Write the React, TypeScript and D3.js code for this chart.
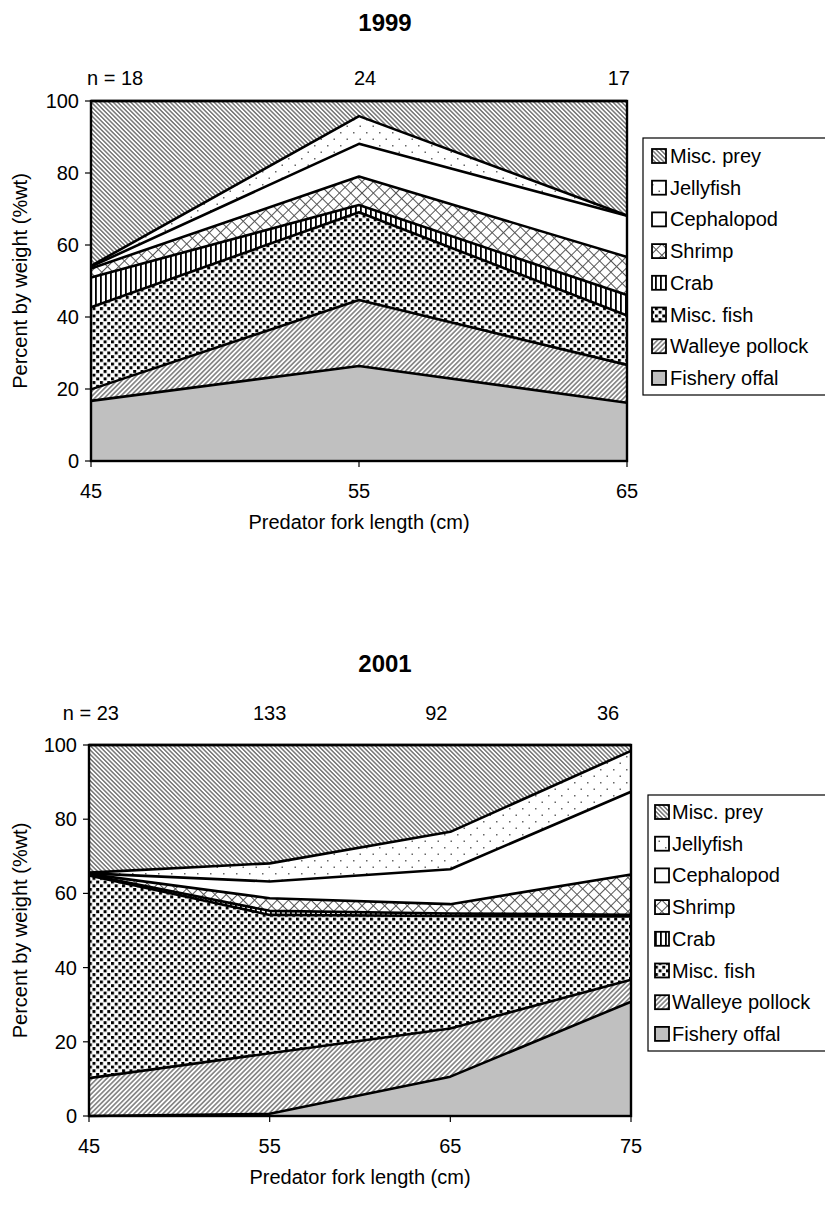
import * as d3 from 'd3';

// series, bottom to top of the stack
const SERIES = ['Fishery offal', 'Walleye pollock', 'Misc. fish', 'Crab', 'Shrimp', 'Cephalopod', 'Jellyfish', 'Misc. prey'];
const FILLS = ['url(#p-offal)', 'url(#p-pollock)', 'url(#p-fish)', 'url(#p-crab)', 'url(#p-shrimp)', 'url(#p-ceph)', 'url(#p-jelly)', 'url(#p-prey)'];

// 1999 (%wt per predator length class)
const len1999 = [45, 55, 65];
const n1999 = ['n = 18', '24', '17'];
const offal1999 = [16.7, 26.4, 16.2];
const pollock1999 = [3.2, 18.3, 10.5];
const fish1999 = [22.8, 24.4, 13.7];
const crab1999 = [8.3, 2.0, 5.7];
const shrimp1999 = [2.5, 7.9, 10.6];
const ceph1999 = [0.5, 9.1, 11.4];
const jelly1999 = [0.2, 7.7, 0.1];
const prey1999 = [45.8, 4.2, 31.8];

// 2001
const len2001 = [45, 55, 65, 75];
const n2001 = ['n = 23', '133', '92', '36'];
const offal2001 = [0, 0.6, 10.6, 30.8];
const pollock2001 = [10.2, 16.3, 13.0, 5.9];
const fish2001 = [54.6, 37.3, 30.3, 17.1];
const crab2001 = [0.2, 1.1, 0.7, 0.4];
const shrimp2001 = [0.2, 3.4, 2.5, 10.9];
const ceph2001 = [0.2, 4.5, 9.4, 22.3];
const jelly2001 = [0.2, 4.9, 10.1, 11.0];
const prey2001 = [34.4, 31.9, 23.4, 1.6];

const yTicks = [0, 20, 40, 60, 80, 100];
const FONT = 'Liberation Sans, Arial, sans-serif';

type Layout = {
  left: number; right: number; top: number; bottom: number;
  titleY: number; nY: number;
  nPos: { anchor: string; dx: number }[];
  legend: { x: number; y: number; h: number; swX: number; txtX: number; y0: number; step: number };
};

function Panel({ title, lengths, nLabels, series, L }: { title: string; lengths: number[]; nLabels: string[]; series: number[][]; L: Layout }) {
  const rows = lengths.map((len, i) => {
    const r: Record<string, number> = { len };
    SERIES.forEach((s, k) => (r[s] = series[k][i]));
    return r;
  });
  const stacked = d3.stack<Record<string, number>>().keys(SERIES)(rows);
  const x = d3.scaleLinear().domain(d3.extent(lengths) as [number, number]).range([L.left, L.right]);
  const y = d3.scaleLinear().domain([0, 100]).range([L.bottom, L.top]);
  const area = d3.area<d3.SeriesPoint<Record<string, number>>>()
    .x((d) => x(d.data.len)).y0((d) => y(d[0])).y1((d) => y(d[1]));
  const topLine = d3.line<d3.SeriesPoint<Record<string, number>>>()
    .x((d) => x(d.data.len)).y((d) => y(d[1]));
  const midX = (L.left + L.right) / 2;
  const lg = L.legend;

  return (
    <g fontFamily={FONT} fontSize={20} fill="#000">
      <text x={385} y={L.titleY} textAnchor="middle" fontWeight="bold" fontSize={24}>{title}</text>
      {nLabels.map((t, i) => (
        <text key={t} x={x(lengths[i]) + L.nPos[i].dx} y={L.nY} textAnchor={L.nPos[i].anchor}>{t}</text>
      ))}
      {stacked.map((s, k) => (
        <path key={s.key} d={area(s) ?? ''} fill={FILLS[k]} stroke="none" />
      ))}
      {stacked.map((s) => (
        <path key={s.key + '-l'} d={topLine(s) ?? ''} fill="none" stroke="#000" strokeWidth={2.6} strokeLinejoin="round" />
      ))}
      <rect x={L.left} y={L.top} width={L.right - L.left} height={L.bottom - L.top} fill="none" stroke="#000" strokeWidth={2.4} />
      {yTicks.map((t) => (
        <g key={t}>
          <line x1={L.left - 6} x2={L.left} y1={y(t)} y2={y(t)} stroke="#000" strokeWidth={1.2} />
          <text x={L.left - 12} y={y(t) + 7} textAnchor="end">{t}</text>
        </g>
      ))}
      {lengths.map((len) => (
        <g key={len}>
          <line x1={x(len)} x2={x(len)} y1={L.bottom} y2={L.bottom + 6} stroke="#000" strokeWidth={1.2} />
          <text x={x(len)} y={L.bottom + 37} textAnchor="middle">{len}</text>
        </g>
      ))}
      <text x={midX} y={L.bottom + 68} textAnchor="middle">Predator fork length (cm)</text>
      <text transform={`translate(27,${(L.top + L.bottom) / 2}) rotate(-90)`} textAnchor="middle">Percent by weight (%wt)</text>
      <rect x={lg.x} y={lg.y} width={300} height={lg.h} fill="#fff" stroke="#000" strokeWidth={1.2} />
      {SERIES.slice().reverse().map((s, i) => {
        const cy = lg.y0 + i * lg.step;
        return (
          <g key={s}>
            <rect x={lg.swX} y={cy - 7} width={14} height={14} fill={FILLS[SERIES.length - 1 - i]} stroke="#000" strokeWidth={1.8} />
            <text x={lg.txtX} y={cy + 7}>{s}</text>
          </g>
        );
      })}
    </g>
  );
}

export default function App() {
  const s1999 = [offal1999, pollock1999, fish1999, crab1999, shrimp1999, ceph1999, jelly1999, prey1999];
  const s2001 = [offal2001, pollock2001, fish2001, crab2001, shrimp2001, ceph2001, jelly2001, prey2001];
  const L1999: Layout = {
    left: 91, right: 627, top: 101, bottom: 461, titleY: 31, nY: 85,
    nPos: [{ anchor: 'start', dx: -4 }, { anchor: 'middle', dx: 6 }, { anchor: 'end', dx: 3 }],
    legend: { x: 643, y: 138, h: 257, swX: 652, txtX: 670, y0: 156, step: 31.7 },
  };
  const L2001: Layout = {
    left: 89, right: 631, top: 745, bottom: 1116, titleY: 672, nY: 720,
    nPos: [{ anchor: 'end', dx: 30 }, { anchor: 'middle', dx: 0 }, { anchor: 'middle', dx: -14 }, { anchor: 'middle', dx: -23 }],
    legend: { x: 648, y: 795, h: 256, swX: 655, txtX: 672, y0: 812, step: 31.7 },
  };
  return (
    <svg width={825} height={1205} style={{ position: 'absolute', left: 0, top: 0, background: '#fff' }}>
      <defs>
        <pattern id="p-offal" patternUnits="userSpaceOnUse" width={4} height={4}>
          <rect width={4} height={4} fill="#c0c0c0" />
        </pattern>
        <pattern id="p-pollock" patternUnits="userSpaceOnUse" width={3.4} height={3.4} patternTransform="rotate(45)">
          <rect width={3.4} height={3.4} fill="#fff" />
          <line x1={1.7} x2={1.7} y1={0} y2={3.4} stroke="#333" strokeWidth={1.0} />
        </pattern>
        <pattern id="p-fish" patternUnits="userSpaceOnUse" width={7.4} height={7.4}>
          <rect width={7.4} height={7.4} fill="#fff" />
          <rect x={0} y={0} width={3} height={3} fill="#000" />
          <rect x={3.7} y={3.7} width={3} height={3} fill="#000" />
        </pattern>
        <pattern id="p-crab" patternUnits="userSpaceOnUse" width={5} height={5}>
          <rect width={5} height={5} fill="#fff" />
          <rect x={0} y={0} width={1.8} height={5} fill="#000" />
        </pattern>
        <pattern id="p-shrimp" patternUnits="userSpaceOnUse" width={8} height={8} patternTransform="rotate(45)">
          <rect width={8} height={8} fill="#fff" />
          <line x1={0} x2={0} y1={0} y2={8} stroke="#555" strokeWidth={2} />
          <line x1={0} x2={8} y1={0} y2={0} stroke="#555" strokeWidth={2} />
        </pattern>
        <pattern id="p-ceph" patternUnits="userSpaceOnUse" width={4} height={4}>
          <rect width={4} height={4} fill="#fff" />
        </pattern>
        <pattern id="p-jelly" patternUnits="userSpaceOnUse" width={13} height={13}>
          <rect width={13} height={13} fill="#fff" />
          <rect x={2} y={2} width={1.5} height={1.5} fill="#666" />
          <rect x={8.5} y={8.5} width={1.5} height={1.5} fill="#666" />
        </pattern>
        <pattern id="p-prey" patternUnits="userSpaceOnUse" width={3.1} height={3.1} patternTransform="rotate(-45)">
          <rect width={3.1} height={3.1} fill="#fff" />
          <line x1={1.55} x2={1.55} y1={0} y2={3.1} stroke="#333" strokeWidth={1.0} />
        </pattern>
      </defs>
      <Panel title="1999" lengths={len1999} nLabels={n1999} series={s1999} L={L1999} />
      <Panel title="2001" lengths={len2001} nLabels={n2001} series={s2001} L={L2001} />
    </svg>
  );
}
